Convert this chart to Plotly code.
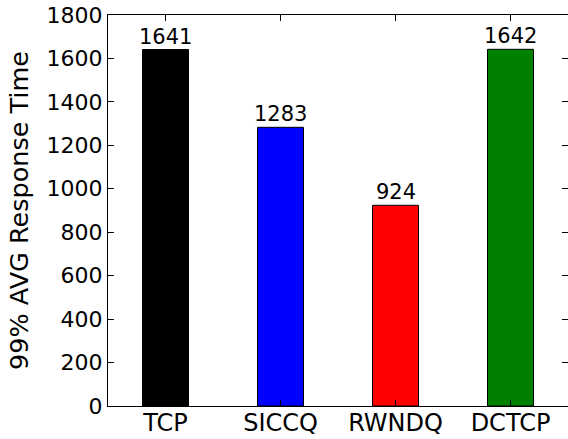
import plotly.graph_objects as go

# Response-time results per scheme
schemes = ["TCP", "SICCQ", "RWNDQ", "DCTCP"]
response_times = [1641, 1283, 924, 1642]
bar_colors = ["#000000", "#0000ff", "#ff0000", "#008000"]
y_ticks = [0, 200, 400, 600, 800, 1000, 1200, 1400, 1600, 1800]

FONT = "DejaVu Sans"

fig = go.Figure()
fig.add_trace(go.Bar(
    x=list(range(len(schemes))),
    y=response_times,
    width=0.4,
    marker=dict(color=bar_colors, line=dict(color="black", width=1)),
    showlegend=False,
))

for i, v in enumerate(response_times):
    fig.add_annotation(
        x=i, y=v, text=str(v), showarrow=False,
        xanchor="center", yanchor="bottom", yshift=-1,
        font=dict(family=FONT, size=21, color="black"),
    )

fig.update_layout(
    width=568, height=439,
    margin=dict(l=108, r=0, t=15, b=33),
    paper_bgcolor="white", plot_bgcolor="white",
    font=dict(family=FONT, color="black"),
)

fig.update_xaxes(
    range=[-0.5, 3.5],
    tickmode="array",
    tickvals=list(range(len(schemes))),
    ticktext=schemes,
    tickfont=dict(family=FONT, size=24, color="black"),
    ticks="inside", ticklen=6, tickwidth=1, tickcolor="black",
    ticklabelstandoff=-5,
    showline=True, linecolor="black", linewidth=1.3, mirror="ticks",
    showgrid=False, zeroline=False,
    automargin=False,
    layer="above traces",
)

fig.update_yaxes(
    range=[0, 1800],
    tickmode="array",
    tickvals=y_ticks,
    tickfont=dict(family=FONT, size=22, color="black"),
    ticks="inside", ticklen=6, tickwidth=1, tickcolor="black",
    showline=True, linecolor="black", linewidth=1.3, mirror="ticks",
    showgrid=False, zeroline=False,
    automargin=False,
    title=dict(text="99% AVG Response Time",
               font=dict(family=FONT, size=25.5, color="black"), standoff=10),
    layer="above traces",
)

fig.write_html("out.html")
